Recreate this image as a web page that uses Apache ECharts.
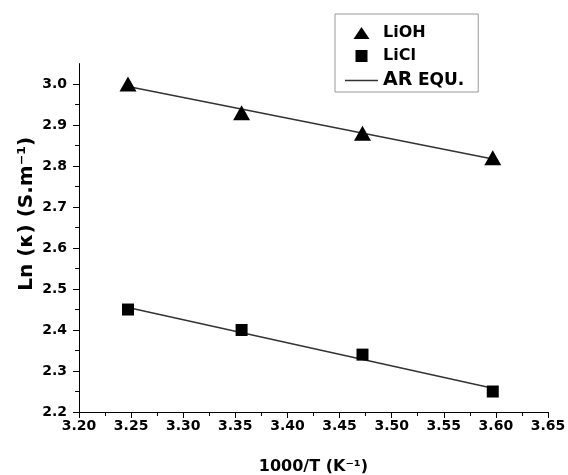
<!DOCTYPE html>
<html>
<head>
<meta charset="utf-8">
<script src="https://cdn.jsdelivr.net/npm/echarts@6/dist/echarts.min.js"></script>
<style>html,body{margin:0;padding:0;background:#fff}#c{width:568px;height:475px}</style>
</head>
<body>
<div id="c"></div>
<script>
// 1000/T values (K^-1)
var invT = [3.247, 3.356, 3.472, 3.597];
// Ln(kappa) measured
var lioh = [3.00, 2.93, 2.88, 2.82];
var licl = [2.45, 2.40, 2.34, 2.25];
// Arrhenius fit lines, read at the end points
var fitX = [3.247, 3.597];
var fitLiOH = [2.994, 2.817];
var fitLiCl = [2.455, 2.258];
// tick labels
var yTicks = [2.2, 2.3, 2.4, 2.5, 2.6, 2.7, 2.8, 2.9, 3.0];

function pairs(xs, ys) { return xs.map(function (x, i) { return [x, ys[i]]; }); }

var font = '"DejaVu Sans", sans-serif';
var chart = echarts.init(document.getElementById('c'), null, { renderer: 'canvas' });
chart.setOption({
  animation: false,
  backgroundColor: '#fff',
  grid: { left: 79, right: 20, top: 63.6, bottom: 63, containLabel: false, outerBoundsMode: 'none' },
  legend: {
    orient: 'vertical',
    left: 335, top: 14,
    padding: [11, 14, 2, 10],
    itemGap: 7,
    itemWidth: 33, itemHeight: 12,
    symbolKeepAspect: true,
    borderColor: '#999', borderWidth: 1,
    itemStyle: { opacity: 1 },
    data: [
      { name: 'LiOH', icon: 'path://M8,0L16,12L0,12Z' },
      { name: 'LiCl', icon: 'path://M0,0H12V12H0Z' },
      { name: 'AR EQU.', icon: 'path://M0,0H33V1.5H0Z' }
    ],
    textStyle: {
      fontFamily: font, fontWeight: 'bold', fontSize: 16, color: '#000',
      rich: {
        ar: { fontFamily: font, fontWeight: 'bold', fontSize: 19, color: '#000' },
        eq: { fontFamily: font, fontWeight: 'bold', fontSize: 17, color: '#000' }
      }
    },
    formatter: function (n) { return n === 'AR EQU.' ? '{ar|AR} {eq|EQU.}' : n; }
  },
  xAxis: {
    type: 'value', min: 3.2, max: 3.65, interval: 0.05,
    name: '1000/T (K⁻¹)', nameLocation: 'middle', nameGap: 47, nameMoveOverlap: false,
    nameTextStyle: { fontFamily: font, fontWeight: 'bold', fontSize: 16, color: '#000' },
    axisLine: { show: true, onZero: false, lineStyle: { color: '#000', width: 1 } },
    axisTick: { show: true, inside: false, length: 6, lineStyle: { color: '#000' } },
    minorTick: { show: true, splitNumber: 2, length: 4, lineStyle: { color: '#000' } },
    splitLine: { show: false },
    axisLabel: { fontFamily: font, fontWeight: 'bold', fontSize: 14, color: '#000', margin: 7,
      formatter: function (v) { return v.toFixed(2); } }
  },
  yAxis: {
    type: 'value', min: 2.2, max: 3.05, interval: 0.1,
    name: 'Ln (κ) (S.m⁻¹)', nameLocation: 'middle', nameGap: 42, nameMoveOverlap: false,
    nameTextStyle: { fontFamily: font, fontWeight: 'bold', fontSize: 20, color: '#000',
      padding: [0, 0, 0, 48] },
    axisLine: { show: true, onZero: false, lineStyle: { color: '#000', width: 1 } },
    axisTick: { show: true, inside: false, length: 6, customValues: yTicks, lineStyle: { color: '#000' } },
    minorTick: { show: true, splitNumber: 2, length: 4, lineStyle: { color: '#000' } },
    splitLine: { show: false },
    axisLabel: { fontFamily: font, fontWeight: 'bold', fontSize: 14, color: '#000', margin: 12,
      customValues: yTicks,
      formatter: function (v) { return v.toFixed(1); } }
  },
  series: [
    { name: 'AR EQU.', type: 'line', data: pairs(fitX, fitLiOH), symbol: 'none',
      lineStyle: { color: '#333', width: 1.5 }, itemStyle: { color: '#333' }, z: 1 },
    { name: 'AR EQU.', type: 'line', data: pairs(fitX, fitLiCl), symbol: 'none',
      lineStyle: { color: '#333', width: 1.5 }, itemStyle: { color: '#333' }, z: 1 },
    { name: 'LiOH', type: 'scatter', data: pairs(invT, lioh), symbol: 'triangle', symbolSize: [17, 15],
      itemStyle: { color: '#000', opacity: 1 }, z: 3 },
    { name: 'LiCl', type: 'scatter', data: pairs(invT, licl), symbol: 'rect', symbolSize: 12,
      itemStyle: { color: '#000', opacity: 1 }, z: 3 }
  ]
});
</script>
</body>
</html>
